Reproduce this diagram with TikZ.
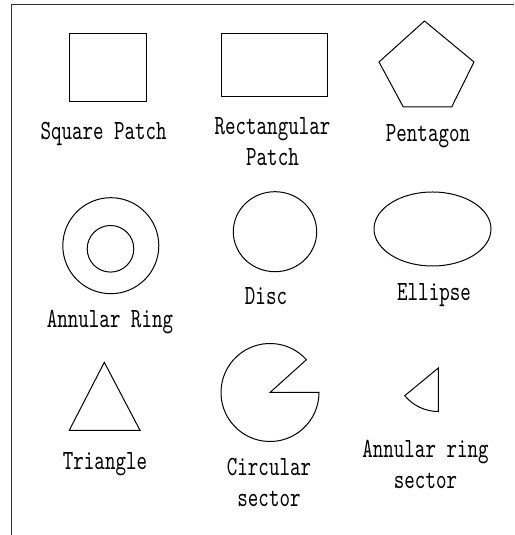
\documentclass[tikz,border=0pt]{standalone}
\usepackage{fontspec}
\usepackage{tikz}
\usetikzlibrary{positioning}
\newfontfamily\lblfont[Extension=.otf,FakeStretch=0.72]{lmmono10-regular}
\tikzset{
  frame/.style={line width=1.8pt, color=black!80},
  shp/.style={line width=1pt, color=black},
  lbl/.style={font=\lblfont\fontsize{27.8}{31}\selectfont, align=center,
              anchor=base, inner sep=0pt},
}
\begin{document}
\begin{tikzpicture}[x=1pt,y=1pt]
\useasboundingbox (0,0) rectangle (514,535);
% frame (top and left only)
\draw[frame] (514,530.5) -- (11.5,530.5) -- (11.5,0);
% row 1
\draw[shp] (69.3,433.8) rectangle (146,501.7);
\draw[shp] (221,438.3) rectangle (327,501.7);
\draw[shp] (424.5,514) -- (474,473) -- (451.7,428) -- (403.3,428) -- (379,473) -- cycle;
\node[lbl] (sqlbl) at (103.7,395.5) {Square Patch};
\node[lbl] (rectlbl) at (272.5,369.3) {Rectangular\\Patch};
\node[lbl] (pentlbl) at (428,393.3) {Pentagon};
% row 2
\coordinate (ring) at (110.8,289.3);
\draw[shp] (ring) circle[radius=48];
\draw[shp] (110.5,286.2) circle[radius=23.3];
\draw[shp] (275,303.3) ellipse[x radius=41.7, y radius=40];
\draw[shp] (432.5,306) ellipse[x radius=58.5, y radius=37];
\node[lbl] (ringlbl) at (110,207) {Annular Ring};
\node[lbl] (disclbl) at (266,230) {Disc};
\node[lbl] (elllbl) at (434,234.3) {Ellipse};
% row 3
\draw[shp] (104.3,172.7) -- (140,104.7) -- (69.3,104.7) -- cycle;
\coordinate (pie) at (270,142.5);
\draw[shp] (pie) -- ++(42:49) arc[start angle=42, end angle=360, radius=49] -- cycle;
\coordinate (sec) at (438.3,167);
\draw[shp] (sec) -- ++(219.5:43.5) arc[start angle=219.5, end angle=270, radius=43.5] -- cycle;
\node[lbl] (trilbl) at (105,65) {Triangle};
\node[lbl] (pielbl) at (269,28.3) {Circular\\sector};
\node[lbl] (seclbl) at (425.5,46.7) {Annular ring\\sector};
\end{tikzpicture}
\end{document}
